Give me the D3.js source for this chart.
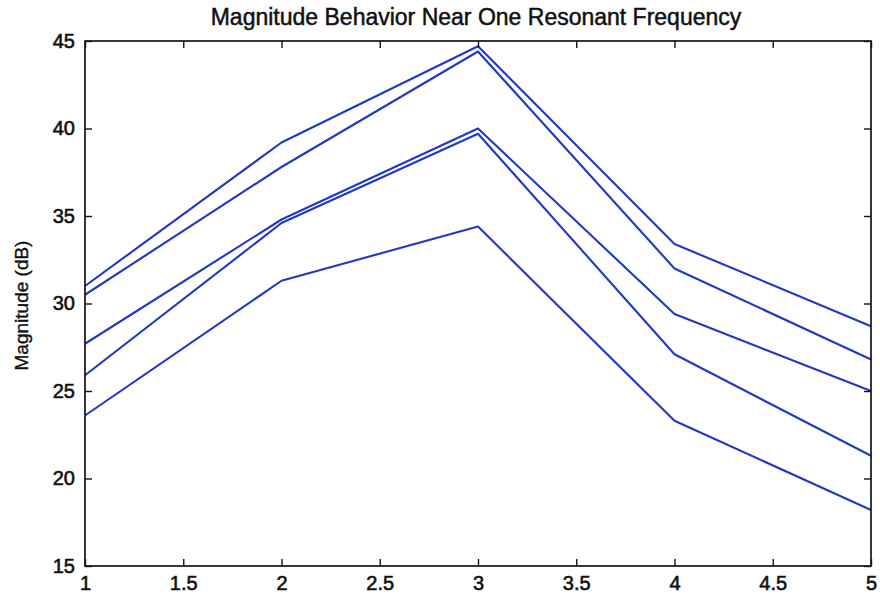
<!DOCTYPE html>
<html>
<head>
<meta charset="utf-8">
<script src="https://cdn.jsdelivr.net/npm/d3@7"></script>
<style>
  html, body { margin: 0; padding: 0; background: #fff; }
  svg { display: block; }
  text { font-family: "Liberation Sans", Arial, Helvetica, sans-serif; fill: #111; }
</style>
</head>
<body>
<svg id="chart" width="880" height="597"></svg>
<script>
// Sample index along the horizontal axis
const xValues = [1, 2, 3, 4, 5];

// Magnitude (dB) of each response curve at each sample
const series1 = [31.0, 39.2, 44.7, 33.4, 28.7];
const series2 = [30.5, 37.8, 44.4, 32.0, 26.8];
const series3 = [27.7, 34.8, 40.0, 29.4, 25.0];
const series4 = [25.9, 34.6, 39.7, 27.1, 21.3];
const series5 = [23.6, 31.3, 34.4, 23.3, 18.2];
const allSeries = [series1, series2, series3, series4, series5];

const xTicks = [1, 1.5, 2, 2.5, 3, 3.5, 4, 4.5, 5];
const yTicks = [15, 20, 25, 30, 35, 40, 45];

const titleText = "Magnitude Behavior Near One Resonant Frequency";
const yLabelText = "Magnitude (dB)";

const svg = d3.select("#chart");
const margin = { left: 85, right: 9, top: 41, bottom: 31 };
const W = 880, H = 597;
const innerW = W - margin.left - margin.right;
const innerH = H - margin.top - margin.bottom;

const x = d3.scaleLinear().domain([1, 5]).range([margin.left, margin.left + innerW]);
const y = d3.scaleLinear().domain([15, 45]).range([margin.top + innerH, margin.top]);

const lineColor = "#2038c4";
const textColor = "#141414";
const tickLen = 7;

// Data lines
const line = d3.line().x((d, i) => x(xValues[i])).y(d => y(d));
svg.append("g")
  .selectAll("path")
  .data(allSeries)
  .join("path")
  .attr("d", line)
  .attr("fill", "none")
  .attr("stroke", lineColor)
  .attr("stroke-width", 2.1)
  .attr("stroke-linejoin", "round");

// Axes box with inward ticks on all four sides
const axisStyle = g => {
  g.select(".domain").remove();
  g.selectAll(".tick line").attr("stroke", textColor).attr("stroke-width", 1.4);
  g.selectAll(".tick text").attr("font-size", 20).attr("fill", textColor)
    .attr("stroke", textColor).attr("stroke-width", 0.6)
    .style("font-family", "'Liberation Sans', Arial, sans-serif");
};

svg.append("g")
  .attr("transform", `translate(0,${margin.top + innerH})`)
  .call(d3.axisBottom(x).tickValues(xTicks).tickFormat(d3.format("")).tickSizeInner(-tickLen).tickSizeOuter(0).tickPadding(10))
  .call(axisStyle);

svg.append("g")
  .attr("transform", `translate(0,${margin.top})`)
  .call(d3.axisTop(x).tickValues(xTicks).tickFormat("").tickSizeInner(-tickLen).tickSizeOuter(0))
  .call(axisStyle);

svg.append("g")
  .attr("transform", `translate(${margin.left},0)`)
  .call(d3.axisLeft(y).tickValues(yTicks).tickFormat(d3.format("")).tickSizeInner(-tickLen).tickSizeOuter(0).tickPadding(10))
  .call(axisStyle);

svg.append("g")
  .attr("transform", `translate(${margin.left + innerW},0)`)
  .call(d3.axisRight(y).tickValues(yTicks).tickFormat("").tickSizeInner(-tickLen).tickSizeOuter(0))
  .call(axisStyle);

svg.append("rect")
  .attr("x", margin.left).attr("y", margin.top)
  .attr("width", innerW).attr("height", innerH)
  .attr("fill", "none").attr("stroke", textColor).attr("stroke-width", 1.7);

// Title
svg.append("text")
  .attr("x", 476)
  .attr("y", 25)
  .attr("text-anchor", "middle")
  .attr("font-size", 23)
  .attr("fill", textColor)
  .attr("stroke", textColor).attr("stroke-width", 0.5)
  .text(titleText);

// Y axis label
svg.append("text")
  .attr("transform", `translate(28,${margin.top + innerH / 2 + 2}) rotate(-90)`)
  .attr("text-anchor", "middle")
  .attr("font-size", 19)
  .attr("fill", textColor)
  .attr("stroke", textColor).attr("stroke-width", 0.4)
  .text(yLabelText);
</script>
</body>
</html>
